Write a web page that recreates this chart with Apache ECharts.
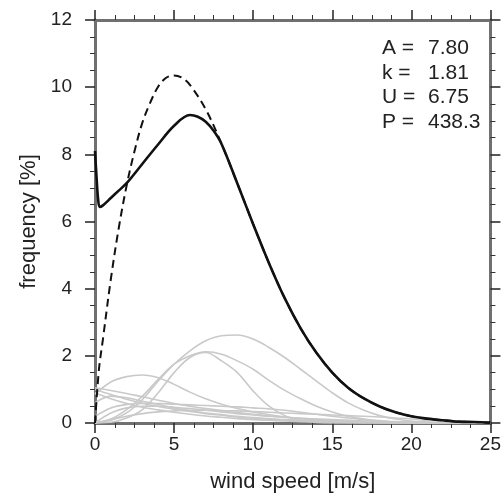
<!DOCTYPE html>
<html>
<head>
    <meta charset="UTF-8">
    <title>wind speed frequency</title>
    <script src="https://cdn.jsdelivr.net/npm/echarts@6/dist/echarts.min.js"></script>
    <style>html,body{margin:0;padding:0;background:#fff;} #main{width:504px;height:498px;}</style>
</head>
<body>
<div id="main"></div>
<script>
    // x positions for the sector curves (m/s)
    var speeds = [0,1,2,3,4,5,6,7,8,9,10,11,12,13,14,15,16,17,18,19,20,21,22,23,24,25];

    // light grey sector curves, read at the speeds above
    var sector1 = [0,0.08,0.3,0.7,1.25,1.75,2.15,2.45,2.6,2.62,2.5,2.25,1.95,1.6,1.25,0.9,0.6,0.38,0.22,0.12,0.06,0.03,0.01,0,0,0];
    var sector2 = [0,0.12,0.4,0.8,1.3,1.75,2.0,2.12,2.05,1.85,1.6,1.27,0.97,0.72,0.5,0.33,0.2,0.12,0.06,0.03,0.01,0,0,0,0,0];
    var sector3 = [0,0.02,0.15,0.4,0.9,1.5,1.95,2.1,1.85,1.5,0.95,0.5,0.22,0.08,0.02,0,0,0,0,0,0,0,0,0,0,0];
    var sector4 = [0.85,1.22,1.38,1.43,1.35,1.15,0.92,0.72,0.56,0.43,0.33,0.25,0.18,0.13,0.09,0.06,0.04,0.02,0.01,0,0,0,0,0,0,0];
    var sector5 = [1.05,0.97,0.88,0.78,0.68,0.58,0.5,0.43,0.37,0.31,0.26,0.21,0.17,0.14,0.11,0.09,0.07,0.05,0.04,0.03,0.02,0.01,0,0,0,0];
    var sector6 = [1.0,0.85,0.71,0.59,0.49,0.41,0.34,0.28,0.23,0.18,0.14,0.11,0.09,0.07,0.05,0.04,0.03,0.02,0.01,0,0,0,0,0,0,0];
    var sector7 = [0.9,0.72,0.58,0.47,0.39,0.32,0.26,0.21,0.17,0.13,0.1,0.08,0.06,0.04,0.03,0.02,0.01,0,0,0,0,0,0,0,0,0];
    var sector8 = [0.2,0.45,0.55,0.58,0.58,0.56,0.54,0.52,0.5,0.48,0.45,0.42,0.38,0.32,0.26,0.2,0.15,0.1,0.07,0.04,0.02,0.01,0,0,0,0];
    var sector9 = [0,0.3,0.45,0.5,0.5,0.47,0.43,0.38,0.33,0.28,0.24,0.2,0.17,0.14,0.12,0.1,0.08,0.06,0.05,0.03,0.02,0.01,0,0,0,0];
    var sector10 = [0.6,0.8,0.75,0.65,0.55,0.45,0.37,0.3,0.25,0.2,0.16,0.13,0.1,0.08,0.06,0.05,0.04,0.03,0.02,0.01,0,0,0,0,0,0];
    var sector11 = [0,0.1,0.2,0.28,0.33,0.36,0.38,0.38,0.37,0.36,0.34,0.32,0.3,0.28,0.26,0.24,0.22,0.2,0.18,0.15,0.12,0.08,0.05,0.03,0.01,0];
    var sectors = [sector1,sector2,sector3,sector4,sector5,sector6,sector7,sector8,sector9,sector10,sector11];

    // fitted weibull (dashed)
    var fitX = [0,0.25,0.5,1,1.5,2,2.5,3,3.5,4,4.5,5,5.5,6,7,8,9,10,11,12,13,14,15,16,17,18,19,20,21,22,23,24,25];
    var fitY = [0,1.6,2.49,4.28,5.8,7.07,8.1,8.95,9.55,10.02,10.28,10.35,10.28,10.07,9.34,8.31,7.13,5.92,4.76,3.71,2.82,2.09,1.5,1.05,0.73,0.49,0.32,0.2,0.13,0.08,0.04,0.03,0.01];

    // measured total distribution (solid)
    var totalX = [0,0.1,0.2,0.3,0.5,1,1.5,2,3,4,5,6,6.5,7,7.5,8,9,10,11,12,13,14,15,16,17,18,19,20,21,22,23,24,25];
    var totalY = [8.1,7.3,6.65,6.43,6.48,6.7,6.92,7.14,7.72,8.3,8.85,9.17,9.12,8.97,8.7,8.31,7.13,5.92,4.76,3.71,2.82,2.09,1.5,1.05,0.73,0.49,0.32,0.2,0.13,0.08,0.04,0.03,0.01];

    var statNames = ['A =', 'k =', 'U =', 'P ='];
    var statValues = ['7.80', '1.81', '6.75', '438.3'];

    function pairs(xs, ys) {
        return xs.map(function (x, i) { return [x, ys[i]]; });
    }

    var font = 'Liberation Sans, Arial, Helvetica, sans-serif';

    function axisBase(extra) {
        var a = {
            type: 'value',
            axisLine: {show: true, onZero: false, lineStyle: {color: '#707070', width: 3}},
            axisTick: {show: true, length: 10, lineStyle: {color: '#222', width: 1.5}},
            minorTick: {show: true, splitNumber: 4, length: 5, lineStyle: {color: '#333', width: 1}},
            splitLine: {show: false},
            axisLabel: {show: false}
        };
        for (var k in extra) a[k] = extra[k];
        return a;
    }

    var series = [];
    sectors.forEach(function (s) {
        series.push({
            type: 'line',
            data: pairs(speeds, s),
            smooth: 0.35,
            showSymbol: false,
            silent: true,
            lineStyle: {color: '#c9c9c9', width: 1.6}
        });
    });
    series.push({
        type: 'line',
        data: pairs(fitX, fitY),
        smooth: 0.35,
        showSymbol: false,
        lineStyle: {color: '#111', width: 2, type: [8, 5]}
    });
    series.push({
        type: 'line',
        data: pairs(totalX, totalY),
        smooth: 0.35,
        showSymbol: false,
        lineStyle: {color: '#111', width: 2.6}
    });

    var graphics = [];
    statNames.forEach(function (n, i) {
        graphics.push({type: 'text', left: 382, top: 38 + i * 24.5,
            style: {text: n, font: '21px ' + font, fill: '#222'}});
        graphics.push({type: 'text', left: 428, top: 38 + i * 24.5,
            style: {text: statValues[i], font: '21px ' + font, fill: '#222'}});
    });

    var myChart = echarts.init(document.getElementById('main'));
    var option = {
        animation: false,
        backgroundColor: '#fff',
        grid: {left: 95, right: 5, top: 20, bottom: 75},
        xAxis: [
            axisBase({position: 'bottom', min: 0, max: 25, interval: 5,
                name: 'wind speed [m/s]', nameLocation: 'middle', nameGap: 48,
                nameTextStyle: {fontFamily: font, fontSize: 22, color: '#222'},
                axisLabel: {show: true, margin: 12, fontFamily: font, fontSize: 19, color: '#222'}}),
            axisBase({position: 'top', min: 0, max: 25, interval: 5})
        ],
        yAxis: [
            axisBase({position: 'left', min: 0, max: 12, interval: 2,
                name: 'frequency [%]', nameLocation: 'middle', nameGap: 55,
                nameTextStyle: {fontFamily: font, fontSize: 22, color: '#222'},
                axisLabel: {show: true, margin: 23, fontFamily: font, fontSize: 19, color: '#222'}}),
            axisBase({position: 'right', min: 0, max: 12, interval: 2})
        ],
        graphic: graphics,
        series: series
    };
    myChart.setOption(option);
</script>
</body>
</html>
